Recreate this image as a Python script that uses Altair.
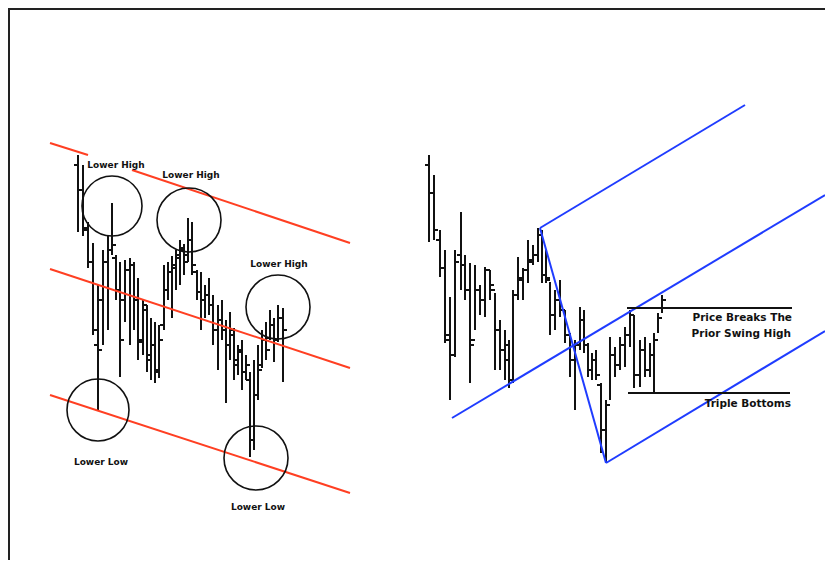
import altair as alt
import pandas as pd

# ---------------- left panel OHLC bars (x, high, low, open, close) ----------------
left_x = [78, 83, 88, 93, 98, 103, 108, 112, 116, 120, 125, 130, 134, 138, 143, 147, 151, 155, 159,
          164, 168, 172, 176, 180, 184, 188, 192, 197, 201, 205, 209, 213, 218, 222, 226, 230, 234,
          238, 242, 246, 250, 254, 258, 262, 266, 270, 274, 278, 283]
left_high = [155, 165, 222, 243, 285, 250, 236, 203, 255, 262, 260, 258, 262, 278, 300, 305, 318, 322, 325,
             265, 262, 256, 250, 240, 244, 218, 222, 270, 272, 285, 278, 295, 305, 300, 320, 312, 328,
             345, 340, 355, 372, 360, 345, 330, 322, 310, 318, 305, 308]
left_low = [232, 236, 268, 335, 410, 345, 330, 255, 300, 377, 322, 345, 330, 360, 355, 372, 380, 383, 378,
            330, 300, 318, 290, 285, 275, 262, 275, 300, 330, 318, 315, 345, 370, 340, 403, 360, 380,
            375, 390, 380, 457, 450, 400, 368, 360, 340, 362, 342, 382]
left_open = [165, 190, 230, 262, 345, 300, 262, 250, 258, 290, 300, 270, 265, 300, 340, 310, 355, 345, 372,
             325, 290, 272, 268, 258, 250, 255, 240, 272, 292, 300, 295, 305, 330, 320, 330, 345, 335,
             360, 352, 372, 380, 440, 395, 365, 340, 338, 325, 340, 318]
left_close = [190, 228, 262, 330, 350, 262, 250, 245, 290, 340, 270, 265, 300, 342, 305, 360, 345, 370, 340,
              290, 272, 265, 255, 248, 262, 240, 265, 292, 300, 295, 305, 330, 320, 330, 345, 330, 365,
              350, 372, 365, 440, 395, 370, 340, 350, 325, 340, 318, 330]

# ---------------- right panel OHLC bars ----------------
right_x = [429, 434, 440, 445, 450, 455, 461, 465, 470, 475, 480, 485, 490, 495, 500, 505, 509, 513,
           518, 523, 528, 533, 538, 542, 546, 550, 555, 560, 565, 570, 575, 580, 584, 588, 592, 596,
           601, 606, 610, 615, 620, 625, 630, 634, 640, 645, 650, 654, 658, 662]
right_high = [155, 175, 230, 250, 297, 250, 212, 255, 263, 265, 285, 267, 270, 293, 320, 330, 340, 290,
              257, 268, 240, 245, 228, 230, 250, 282, 290, 280, 310, 333, 340, 307, 310, 343, 353, 350,
              383, 400, 337, 347, 337, 327, 310, 315, 340, 337, 343, 333, 313, 295]
right_low = [242, 240, 277, 343, 400, 357, 290, 300, 383, 330, 315, 317, 300, 370, 370, 380, 388, 383,
             300, 300, 283, 265, 262, 283, 283, 335, 330, 317, 343, 377, 410, 350, 353, 377, 380, 380,
             453, 462, 400, 377, 370, 367, 347, 388, 387, 377, 377, 392, 333, 313]
right_open = [165, 193, 240, 268, 340, 355, 255, 265, 290, 340, 290, 300, 270, 290, 330, 350, 360, 380,
              295, 278, 270, 260, 255, 235, 275, 280, 315, 300, 310, 335, 360, 345, 320, 345, 370, 360,
              385, 430, 405, 355, 365, 345, 335, 315, 375, 350, 370, 355, 340, 318]
right_close = [193, 230, 268, 335, 355, 262, 265, 290, 345, 290, 300, 270, 285, 330, 350, 345, 380, 295,
               280, 270, 262, 255, 235, 275, 278, 315, 300, 310, 335, 360, 345, 320, 345, 370, 360, 375,
               430, 405, 355, 365, 345, 335, 315, 375, 350, 370, 355, 340, 318, 300]

# ---------------- trend lines ----------------
red_x1 = [50, 132, 50, 50]
red_y1 = [143, 170, 269, 395]
red_x2 = [88, 350, 350, 350]
red_y2 = [155, 243, 368, 493]

blue_x1 = [540, 452, 606, 540]
blue_y1 = [228, 418, 463, 228]
blue_x2 = [745, 825, 825, 606]
blue_y2 = [105, 195, 331, 463]

level_x1 = [627, 628]
level_x2 = [792, 790]
level_y = [308, 393]

# ---------------- circles ----------------
circle_x = [112, 189, 278, 98, 256]
circle_y = [206, 220, 307, 410, 458]
circle_r = [30, 32, 32, 31, 32]

# ---------------- labels ----------------
left_labels = ["Lower High", "Lower High", "Lower High", "Lower Low", "Lower Low"]
left_label_x = [116, 191, 279, 101, 258]
left_label_y = [165, 175, 264, 462, 507]

right_labels = ["Price Breaks The", "Prior Swing High", "Triple Bottoms"]
right_label_x = [792, 791, 791]
right_label_y = [318, 334, 404]

# border of the picture frame
border_x1 = [8, 9]
border_x2 = [825, 9]
border_y1 = [9, 8]
border_y2 = [9, 560]

W, H = 817, 552
xs = alt.Scale(domain=[8, 825], nice=False, zero=False)
ys = alt.Scale(domain=[8, 560], reverse=True, nice=False, zero=False)

bars = pd.DataFrame({
    "x": left_x + right_x,
    "high": left_high + right_high,
    "low": left_low + right_low,
    "open": left_open + right_open,
    "close": left_close + right_close,
})

base_bars = alt.Chart(bars)
bar_lines = base_bars.mark_rule(color="#111111", strokeWidth=2).encode(
    x=alt.X("x:Q", scale=xs, axis=None),
    y=alt.Y("high:Q", scale=ys, axis=None),
    y2="low:Q",
)
open_ticks = base_bars.transform_calculate(xo="datum.x - 4").mark_rule(
    color="#111111", strokeWidth=2
).encode(
    x=alt.X("xo:Q", scale=xs, axis=None),
    x2="x:Q",
    y=alt.Y("open:Q", scale=ys, axis=None),
)
close_ticks = base_bars.transform_calculate(xc="datum.x + 4").mark_rule(
    color="#111111", strokeWidth=2
).encode(
    x=alt.X("x:Q", scale=xs, axis=None),
    x2="xc:Q",
    y=alt.Y("close:Q", scale=ys, axis=None),
)

red = pd.DataFrame({"x1": red_x1, "y1": red_y1, "x2": red_x2, "y2": red_y2})
red_lines = alt.Chart(red).mark_rule(color="#ff3f22", strokeWidth=2).encode(
    x=alt.X("x1:Q", scale=xs, axis=None),
    y=alt.Y("y1:Q", scale=ys, axis=None),
    x2="x2:Q",
    y2="y2:Q",
)

blue = pd.DataFrame({"x1": blue_x1, "y1": blue_y1, "x2": blue_x2, "y2": blue_y2})
blue_lines = alt.Chart(blue).mark_rule(color="#1f3cff", strokeWidth=2).encode(
    x=alt.X("x1:Q", scale=xs, axis=None),
    y=alt.Y("y1:Q", scale=ys, axis=None),
    x2="x2:Q",
    y2="y2:Q",
)

levels = pd.DataFrame({"x1": level_x1, "x2": level_x2, "y": level_y})
level_lines = alt.Chart(levels).mark_rule(color="#111111", strokeWidth=2).encode(
    x=alt.X("x1:Q", scale=xs, axis=None),
    x2="x2:Q",
    y=alt.Y("y:Q", scale=ys, axis=None),
)

circles = pd.DataFrame({"x": circle_x, "y": circle_y, "r": circle_r})
circle_marks = alt.Chart(circles).transform_calculate(
    s="(2 * datum.r) * (2 * datum.r)"
).mark_point(shape="circle", filled=False, color="#111111", strokeWidth=1.6, opacity=1).encode(
    x=alt.X("x:Q", scale=xs, axis=None),
    y=alt.Y("y:Q", scale=ys, axis=None),
    size=alt.Size("s:Q", scale=None, legend=None),
)

ltext = pd.DataFrame({"t": left_labels, "x": left_label_x, "y": left_label_y})
left_text = alt.Chart(ltext).mark_text(
    font="DejaVu Sans", fontSize=9, fontWeight="bold", color="#111111",
    align="center", baseline="middle",
).encode(
    x=alt.X("x:Q", scale=xs, axis=None),
    y=alt.Y("y:Q", scale=ys, axis=None),
    text="t:N",
)

rtext = pd.DataFrame({"t": right_labels, "x": right_label_x, "y": right_label_y})
right_text = alt.Chart(rtext).mark_text(
    font="DejaVu Sans", fontSize=10.5, fontWeight="bold", color="#111111",
    align="right", baseline="middle",
).encode(
    x=alt.X("x:Q", scale=xs, axis=None),
    y=alt.Y("y:Q", scale=ys, axis=None),
    text="t:N",
)

border = pd.DataFrame({"x1": border_x1, "x2": border_x2, "y1": border_y1, "y2": border_y2})
border_lines = alt.Chart(border).mark_rule(color="#222222", strokeWidth=2).encode(
    x=alt.X("x1:Q", scale=xs, axis=None),
    y=alt.Y("y1:Q", scale=ys, axis=None),
    x2="x2:Q",
    y2="y2:Q",
)

chart = alt.layer(
    bar_lines, open_ticks, close_ticks, red_lines, blue_lines, level_lines,
    circle_marks, left_text, right_text, border_lines,
).properties(
    width=W, height=H, padding=0,
    autosize=alt.AutoSizeParams(type="none"),
    background="white",
).configure_view(strokeWidth=0)

chart.save("out.html", embed_options={"renderer": "svg", "actions": False})
